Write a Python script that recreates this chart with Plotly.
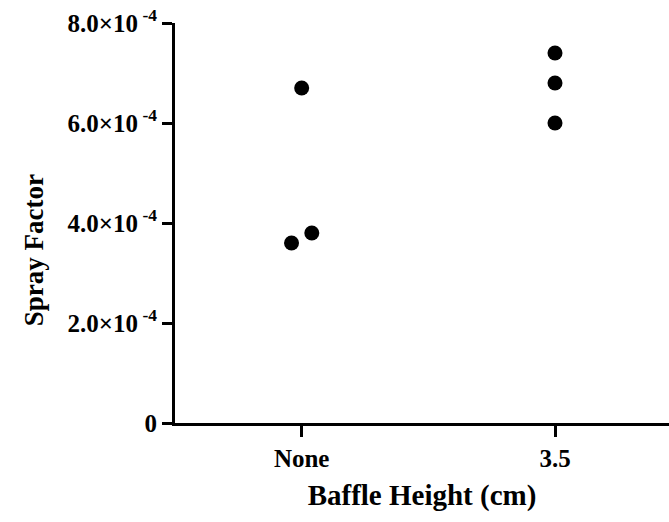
import plotly.graph_objects as go

# Spray factor measured for each baffle height (three replicates per group)
groups = ["None", "3.5"]
none_values = [6.7e-4, 3.6e-4, 3.8e-4]
baffle_values = [7.4e-4, 6.8e-4, 6.0e-4]
# small horizontal scatter so overlapping replicates stay visible
none_jitter = [0.0, -0.04, 0.04]
baffle_jitter = [0.0, 0.0, 0.0]

y_ticks = [0, 2e-4, 4e-4, 6e-4, 8e-4]
y_tick_text = ["0", "2.0×10<sup> -4</sup>", "4.0×10<sup> -4</sup>",
               "6.0×10<sup> -4</sup>", "8.0×10<sup> -4</sup>"]

font_family = "Liberation Serif, Times New Roman, serif"

xs = [0 + j for j in none_jitter] + [1 + j for j in baffle_jitter]
ys = none_values + baffle_values

fig = go.Figure(go.Scatter(
    x=xs, y=ys, mode="markers",
    marker=dict(color="black", size=15, symbol="circle"),
    showlegend=False,
))

fig.update_layout(
    width=669, height=522,
    margin=dict(l=175, r=0, t=23, b=99),
    paper_bgcolor="white", plot_bgcolor="white",
    font=dict(family=font_family, color="black", size=25, weight="bold"),
)

fig.update_xaxes(
    range=[-0.5, 1.45],
    tickvals=[0, 1], ticktext=groups,
    showgrid=False, zeroline=False,
    showline=True, linecolor="black", linewidth=3,
    ticks="outside", ticklen=11, tickwidth=3, tickcolor="black",
    tickfont=dict(size=25, family=font_family, weight="bold"),
    title=dict(text="Baffle Height (cm)", standoff=14,
               font=dict(size=29, family=font_family, weight="bold")),
)

fig.update_yaxes(
    range=[0, 8e-4],
    tickvals=y_ticks, ticktext=y_tick_text,
    showgrid=False, zeroline=False,
    showline=True, linecolor="black", linewidth=3,
    ticks="outside", ticklen=10, tickwidth=3, tickcolor="black",
    tickfont=dict(size=25, family=font_family, weight="bold"),
)

# vertical axis title, placed as a rotated annotation
fig.add_annotation(
    text="Spray Factor", textangle=-90,
    xref="paper", yref="paper", x=-0.285, y=0.4325,
    xanchor="center", yanchor="middle", showarrow=False,
    font=dict(size=27, family=font_family, weight="bold"),
)

fig.write_html("out.html")
